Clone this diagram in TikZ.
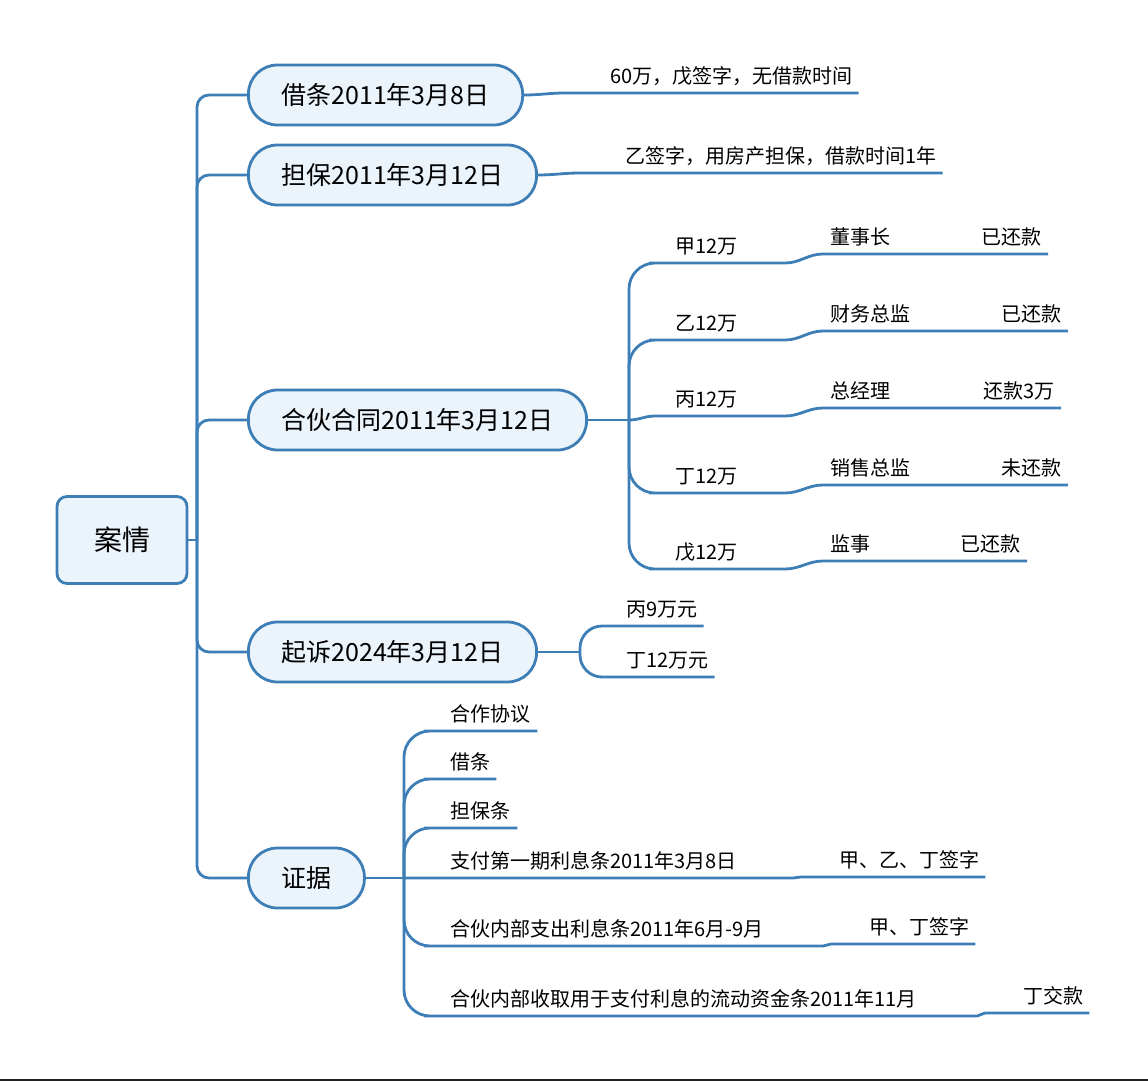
\documentclass[tikz,border=0pt]{standalone}
\usepackage{fontspec}
\setmainfont{Noto Sans CJK SC}
\usetikzlibrary{positioning}
\definecolor{mapblue}{RGB}{62,126,182}
\definecolor{mapsoft}{RGB}{235,243,251}
\definecolor{mapedge}{RGB}{30,30,30}

\begin{document}
\begin{tikzpicture}[
  x=1pt,y=-1pt,
  root/.style={draw=mapblue,line width=2.8pt,rounded corners=10pt,fill=mapsoft,minimum width=130pt,minimum height=87pt,font=\fontsize{28}{34}\selectfont},
  branch/.style={draw=mapblue,line width=2.8pt,rounded corners=29pt,fill=mapsoft,minimum height=60pt,inner xsep=33pt,font=\fontsize{25}{30}\selectfont},
  leaf/.style={inner xsep=0pt,inner ysep=8pt,text height=0.9em,text depth=0.15em,font=\fontsize{20}{24}\selectfont},
  link/.style={draw=mapblue,line width=2.8pt},
  hook/.style={link,rounded corners=12pt}
]
\useasboundingbox (0,0) rectangle (1148,1082);
\draw[mapedge,line width=2pt] (0,1080) -- (1148,1080);

\node[root] (case) at (122,540) {案情};
\node[branch,anchor=west] (loan) at (247,95) {借条2011年3月8日};
\node[branch,anchor=west] (guar) at (247,175) {担保2011年3月12日};
\node[branch,anchor=west] (part) at (247,420) {合伙合同2011年3月12日};
\node[branch,anchor=west] (suit) at (247,652) {起诉2024年3月12日};
\node[branch,anchor=west] (proof) at (247,878) {证据};

\coordinate (trunk) at (197,540);
\coordinate (parthub) at (629,420);
\coordinate (suithub) at (580,652);
\coordinate (proofhub) at (404,878);

\node[leaf,anchor=south west] (loannote) at (610,93) {60万，戊签字，无借款时间};
\node[leaf,anchor=south west] (guarnote) at (625,173) {乙签字，用房产担保，借款时间1年};

\node[leaf,anchor=south west] (sharea) at (675,263) {甲12万};
\node[leaf,anchor=south west] (shareb) at (675,340) {乙12万};
\node[leaf,anchor=south west] (sharec) at (675,416) {丙12万};
\node[leaf,anchor=south west] (shared) at (675,493) {丁12万};
\node[leaf,anchor=south west] (sharee) at (675,569) {戊12万};
\node[leaf,anchor=south west] (rolea) at (830,254) {董事长};
\node[leaf,anchor=south west] (roleb) at (830,331) {财务总监};
\node[leaf,anchor=south west] (rolec) at (830,408) {总经理};
\node[leaf,anchor=south west] (roled) at (830,485) {销售总监};
\node[leaf,anchor=south west] (rolee) at (830,561) {监事};
\node[leaf,anchor=south east] (paya) at (1042,254) {已还款};
\node[leaf,anchor=south east] (payb) at (1062,331) {已还款};
\node[leaf,anchor=south east] (payc) at (1055,408) {还款3万};
\node[leaf,anchor=south east] (payd) at (1062,485) {未还款};
\node[leaf,anchor=south east] (paye) at (1021,561) {已还款};

\node[leaf,anchor=south west] (suita) at (626,626) {丙9万元};
\node[leaf,anchor=south west] (suitb) at (626,677) {丁12万元};

\node[leaf,anchor=south west] (evida) at (450,731) {合作协议};
\node[leaf,anchor=south west] (evidb) at (450,779) {借条};
\node[leaf,anchor=south west] (evidc) at (450,828) {担保条};
\node[leaf,anchor=south west] (evidd) at (450,878) {支付第一期利息条2011年3月8日};
\node[leaf,anchor=south west] (evide) at (450,946) {合伙内部支出利息条2011年6月-9月};
\node[leaf,anchor=south west] (evidf) at (450,1016) {合伙内部收取用于支付利息的流动资金条2011年11月};
\node[leaf,anchor=south west] (signd) at (839,877) {甲、乙、丁签字};
\node[leaf,anchor=south west] (signe) at (869,944) {甲、丁签字};
\node[leaf,anchor=south west] (signf) at (1023,1013) {丁交款};

\draw[link] (case.east) -- (trunk);
\draw[hook] (trunk) |- (loan.west);
\draw[hook] (trunk) |- (guar.west);
\draw[hook] (trunk) |- (part.west);
\draw[hook] (trunk) |- (suit.west);
\draw[hook] (trunk) |- (proof.west);

\draw[link] (loan.east) to[out=0,in=180] ([xshift=-45pt]loannote.south west) -- ([xshift=6pt]loannote.south east);
\draw[link] (guar.east) to[out=0,in=180] ([xshift=-45pt]guarnote.south west) -- ([xshift=6pt]guarnote.south east);

\draw[link] (part.east) -- (parthub);
\draw[link] (parthub) [rounded corners=26pt] |- (sharea.south west) [sharp corners] -- ([xshift=-45pt]rolea.south west |- sharea.south) to[out=0,in=180] ([xshift=-7pt]rolea.south west) -- ([xshift=6pt]paya.south east);
\draw[link] (parthub) [rounded corners=26pt] |- (shareb.south west) [sharp corners] -- ([xshift=-45pt]roleb.south west |- shareb.south) to[out=0,in=180] ([xshift=-7pt]roleb.south west) -- ([xshift=6pt]payb.south east);
\draw[link] (parthub) to[out=0,in=180] ([xshift=-20pt]sharec.south west) -- ([xshift=-45pt]rolec.south west |- sharec.south) to[out=0,in=180] ([xshift=-7pt]rolec.south west) -- ([xshift=6pt]payc.south east);
\draw[link] (parthub) [rounded corners=26pt] |- (shared.south west) [sharp corners] -- ([xshift=-45pt]roled.south west |- shared.south) to[out=0,in=180] ([xshift=-7pt]roled.south west) -- ([xshift=6pt]payd.south east);
\draw[link] (parthub) [rounded corners=26pt] |- (sharee.south west) [sharp corners] -- ([xshift=-45pt]rolee.south west |- sharee.south) to[out=0,in=180] ([xshift=-7pt]rolee.south west) -- ([xshift=6pt]paye.south east);

\draw[link] (suit.east) -- (suithub);
\draw[link] (suithub) [rounded corners=22pt] |- (suita.south west) [sharp corners] -- ([xshift=6pt]suita.south east);
\draw[link] (suithub) [rounded corners=22pt] |- (suitb.south west) [sharp corners] -- ([xshift=6pt]suitb.south east);

\draw[link] (proof.east) -- (proofhub);
\draw[link] (proofhub) [rounded corners=26pt] |- (evida.south west) [sharp corners] -- ([xshift=7pt]evida.south east);
\draw[link] (proofhub) [rounded corners=26pt] |- (evidb.south west) [sharp corners] -- ([xshift=6pt]evidb.south east);
\draw[link] (proofhub) [rounded corners=26pt] |- (evidc.south west) [sharp corners] -- ([xshift=7pt]evidc.south east);
\draw[link] (proofhub) -- (evidd.south west) -- ([xshift=-46pt]signd.south west |- evidd.south) to[out=0,in=180] ([xshift=-38pt]signd.south west) -- ([xshift=6pt]signd.south east);
\draw[link] (proofhub) [rounded corners=26pt] |- (evide.south west) [sharp corners] -- ([xshift=-46pt]signe.south west |- evide.south) to[out=0,in=180] ([xshift=-38pt]signe.south west) -- ([xshift=6pt]signe.south east);
\draw[link] (proofhub) [rounded corners=26pt] |- (evidf.south west) [sharp corners] -- ([xshift=-46pt]signf.south west |- evidf.south) to[out=0,in=180] ([xshift=-38pt]signf.south west) -- ([xshift=6pt]signf.south east);
\end{tikzpicture}
\end{document}
